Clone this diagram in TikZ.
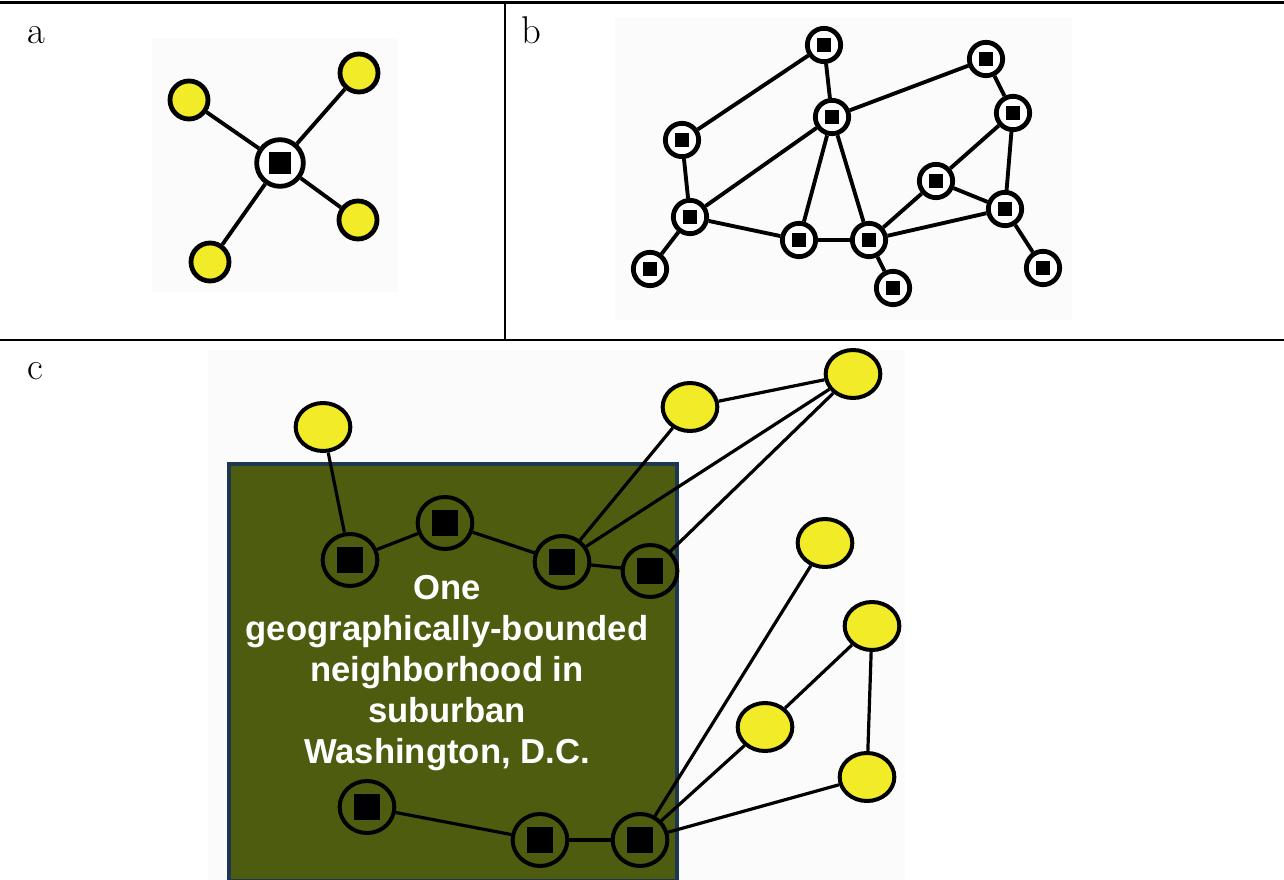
\documentclass[tikz,border=0pt]{standalone}
\usepackage{fontspec}
\setsansfont{Liberation Sans}
\usetikzlibrary{shapes.geometric}
\definecolor{ylw}{RGB}{242,236,40}
\definecolor{olive}{RGB}{78,92,15}
\definecolor{navy}{RGB}{30,55,80}
\definecolor{panelbg}{RGB}{251,251,251}
\tikzset{
  ynodeA/.style={circle, draw=black, fill=ylw, line width=3.6pt, minimum size=28.5pt, inner sep=0pt},
  hubA/.style={circle, draw=black, fill=white, line width=3.6pt, minimum size=35pt, inner sep=0pt,
    path picture={\fill[black] ([shift={(-8pt,-8pt)}]path picture bounding box.center) rectangle ([shift={(8pt,8pt)}]path picture bounding box.center);}},
  bnode/.style={circle, draw=black, fill=white, line width=3.6pt, minimum size=25pt, inner sep=0pt,
    path picture={\fill[black] ([shift={(-5.5pt,-5.5pt)}]path picture bounding box.center) rectangle ([shift={(5.5pt,5.5pt)}]path picture bounding box.center);}},
  cnode/.style={ellipse, draw=black, line width=3pt, minimum width=41pt, minimum height=39pt, inner sep=0pt,
    path picture={\fill[black] ([shift={(-9.5pt,-9.5pt)}]path picture bounding box.center) rectangle ([shift={(9.5pt,9.5pt)}]path picture bounding box.center);}},
  ynodeC/.style={ellipse, draw=black, fill=ylw, line width=3pt, minimum width=41pt, minimum height=36pt, inner sep=0pt},
  edgeAB/.style={line width=2.9pt},
  edgeC/.style={line width=2.4pt},
  panellabel/.style={anchor=base west, inner sep=0pt, font=\fontsize{29pt}{30pt}\selectfont},
  rule/.style={line width=1.6pt}
}
\begin{document}
\begin{tikzpicture}[x=0.75pt,y=-0.75pt]
\useasboundingbox (0,0) rectangle (1284,880);
\fill[white] (0,0) rectangle (1284,880);
% panel backgrounds
\fill[panelbg] (152,38) rectangle (398,292);
\fill[panelbg] (615,17) rectangle (1072,320);
\fill[panelbg] (208,350) rectangle (905,880);
% frame lines
\coordinate (tl) at (0,2.5);
\coordinate (tr) at (1284,2.5);
\coordinate (ml) at (0,340);
\coordinate (mr) at (1284,340);
\coordinate (vt) at (505,2.5);
\coordinate (vb) at (505,340);
\draw[line width=2.2pt] (tl) -- (tr);
\draw[rule] (ml) -- (mr);
\draw[rule] (vt) -- (vb);
% labels
\node[panellabel] (la) at (27,44) {a};
\node[panellabel] (lb) at (521,44) {b};
\node[panellabel] (lc) at (27,379) {c};

% ---------- panel a ----------
\node[hubA] (h) at (280,163) {};
\node[ynodeA] (a1) at (189,100) {};
\node[ynodeA] (a2) at (359,73) {};
\node[ynodeA] (a3) at (358,220) {};
\node[ynodeA] (a4) at (210,262) {};
\foreach \n in {a1,a2,a3,a4} \draw[edgeAB] (h) -- (\n);

% ---------- panel b ----------
\node[bnode] (b1) at (824,45) {};
\node[bnode] (b2) at (986,59) {};
\node[bnode] (b3) at (832,117) {};
\node[bnode] (b4) at (1013,113) {};
\node[bnode] (b5) at (682,140) {};
\node[bnode] (b6) at (936,181) {};
\node[bnode] (b7) at (690,217) {};
\node[bnode] (b8) at (1005,209) {};
\node[bnode] (b9) at (799,240) {};
\node[bnode] (b10) at (869,240) {};
\node[bnode] (b11) at (650,269) {};
\node[bnode] (b12) at (893,288) {};
\node[bnode] (b13) at (1043,268) {};
\foreach \a/\b in {b1/b5,b1/b3,b3/b2,b2/b4,b3/b7,b3/b9,b3/b10,b5/b7,b7/b11,b7/b9,b9/b10,b10/b12,b10/b6,b10/b8,b4/b6,b4/b8,b6/b8,b8/b13}
  \draw[edgeAB] (\a) -- (\b);

% ---------- panel c ----------
\draw[fill=olive, draw=navy, line width=2.3pt] (229,464) rectangle (677,881);
\node[cnode] (c1) at (350,560) {};
\node[cnode] (c2) at (445,523) {};
\node[cnode] (c3) at (562,562) {};
\node[cnode] (c4) at (650,571) {};
\node[cnode] (c5) at (367,807) {};
\node[cnode] (c6) at (540,840) {};
\node[cnode] (c7) at (640,840) {};
\node[ynodeC] (y1) at (323,427) {};
\node[ynodeC] (y2) at (690,407) {};
\node[ynodeC] (y3) at (853,374) {};
\node[ynodeC] (y4) at (825,543) {};
\node[ynodeC] (y5) at (872,626) {};
\node[ynodeC] (y6) at (765,727) {};
\node[ynodeC] (y7) at (867,777) {};
\foreach \a/\b in {y1/c1,c1/c2,c2/c3,c3/c4,c3/y2,c3/y3,c4/y3,y2/y3,c5/c6,c6/c7,c7/y4,c7/y6,c7/y7,y5/y6,y5/y7}
  \draw[edgeC] (\a) -- (\b);
\node[align=center, text=white, inner sep=0pt, font=\sffamily\bfseries\fontsize{26pt}{30.8pt}\selectfont] (txt) at (447,673)
  {One\\geographically-bounded\\neighborhood in\\suburban\\Washington, D.C.};
\end{tikzpicture}
\end{document}
